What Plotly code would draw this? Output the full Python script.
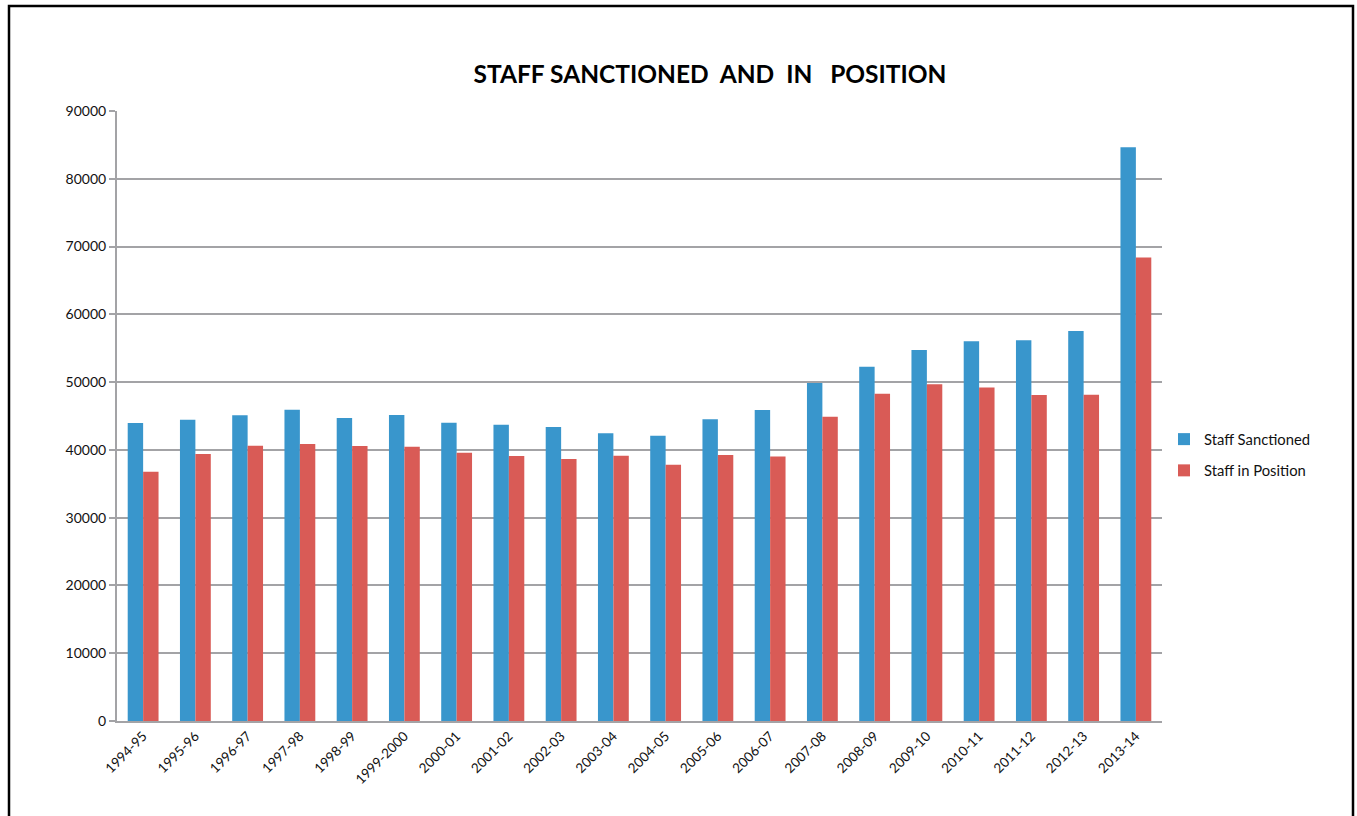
import plotly.graph_objects as go

# data
years = ["1994-95", "1995-96", "1996-97", "1997-98", "1998-99", "1999-2000",
         "2000-01", "2001-02", "2002-03", "2003-04", "2004-05", "2005-06",
         "2006-07", "2007-08", "2008-09", "2009-10", "2010-11", "2011-12",
         "2012-13", "2013-14"]
sanctioned = [43970, 44460, 45100, 45940, 44710, 45150, 44020, 43720, 43380, 42440,
              42100, 44510, 45890, 49880, 52250, 54730, 56040, 56160, 57530, 84640]
in_position = [36780, 39390, 40620, 40870, 40570, 40470, 39590, 39100, 38650, 39140,
               37810, 39250, 39040, 44900, 48300, 49700, 49220, 48080, 48140, 68390]
y_ticks = list(range(0, 90001, 10000))

blue = "#3996CC"
red = "#D95B56"
grid = "#A3A3A6"
font = "Lato, 'Open Sans', sans-serif"

fig = go.Figure()
fig.add_trace(go.Bar(x=years, y=sanctioned, name="Staff Sanctioned",
                     marker=dict(color=blue, line=dict(width=0)), legendgroup="a"))
fig.add_trace(go.Bar(x=years, y=in_position, name="Staff in Position",
                     marker=dict(color=red, line=dict(width=0)), legendgroup="b"))

# frame around the whole chart (left, top, right edges; bottom cut off)
L, R, T, B = 117, 195, 111, 95
W, H = 1357, 816
pw, ph = W - L - R, H - T - B
def px(x): return (x - L) / pw
def py(y): return (H - B - y) / ph

fig.add_shape(type="path", xref="paper", yref="paper",
              path=f"M {px(9)} {py(830)} L {px(9)} {py(6)} L {px(1353)} {py(6)} L {px(1353)} {py(830)}",
              line=dict(color="black", width=2.5))

fig.update_layout(
    width=W, height=H,
    margin=dict(l=L, r=R, t=T, b=B),
    paper_bgcolor="white", plot_bgcolor="white",
    barmode="group", bargap=0.41, bargroupgap=0,
    font=dict(family=font, size=13, color="#111111"),
    title=dict(text="STAFF SANCTIONED&nbsp; AND&nbsp; IN&nbsp;&nbsp; POSITION",
               x=px(710), xref="paper", xanchor="center",
               y=1 - 74 / H, yanchor="middle",
               font=dict(family=font, size=24.5, color="black", weight="bold")),
    xaxis=dict(type="category", tickangle=-45, showgrid=False, showline=True,
               linecolor=grid, linewidth=2, ticks="", tickfont=dict(size=13.5)),
    yaxis=dict(range=[0, 90000], tickvals=y_ticks, tickformat="d", showgrid=True,
               gridcolor=grid, gridwidth=1.5, showline=True, linecolor=grid, linewidth=2,
               ticks="outside", ticklen=6, tickcolor=grid, tickwidth=1.5,
               zeroline=False, tickfont=dict(size=14)),
    legend=dict(x=px(1164), y=py(455), xanchor="left", yanchor="middle",
                traceorder="grouped", tracegroupgap=9, font=dict(size=14.8),
                itemwidth=30),
    showlegend=True,
)

fig.write_html("out.html", config={"displayModeBar": False},
               post_script="document.body.style.margin='0';")
